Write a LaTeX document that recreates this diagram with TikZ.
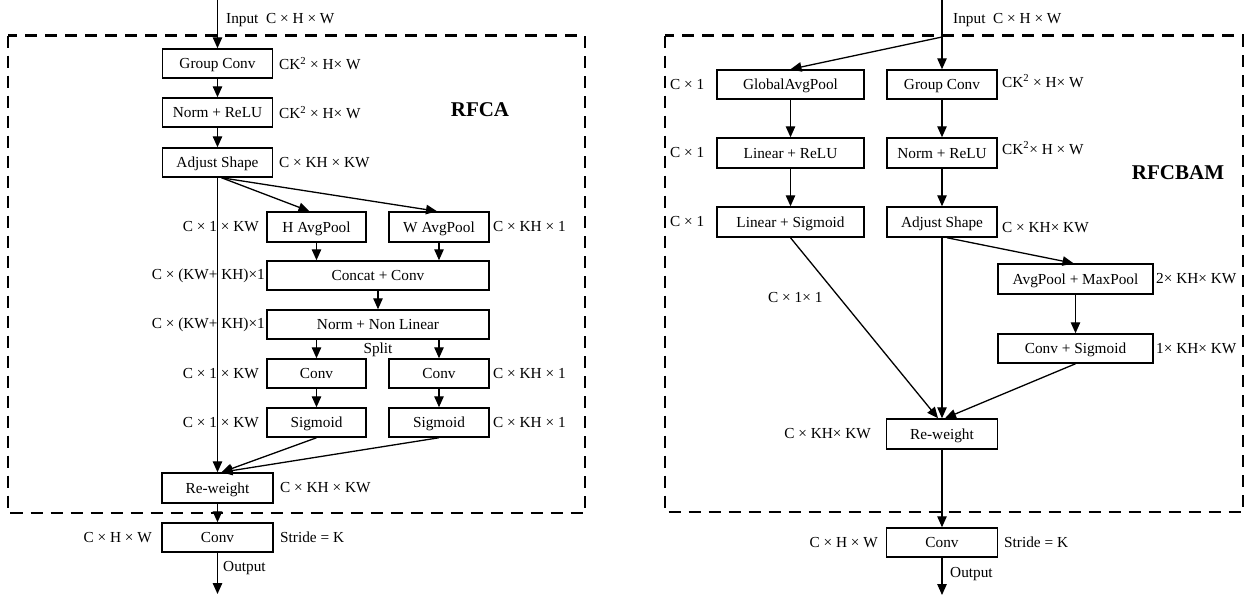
\documentclass[tikz,border=0pt]{standalone}
\usepackage{fontspec}
\setmainfont{Liberation Serif}
\usetikzlibrary{arrows.meta}
\newcommand{\mysz}{\fontsize{15.3}{18}\selectfont}
\newcommand{\mybig}{\bfseries\fontsize{21}{24}\selectfont}
\begin{document}
\begin{tikzpicture}[x=1pt,y=-1pt,
  box/.style={draw, line width=1.5pt, inner sep=0pt, minimum height=29pt, text depth=0pt, font=\mysz},
  lab/.style={inner sep=0pt, font=\mysz},
  arr/.style={line width=1.3pt, -{Triangle[length=11pt,width=9.5pt]}},
  dbox/.style={draw, line width=2.2pt, dash pattern=on 12pt off 8pt},
]
\useasboundingbox (0,0) rectangle (1249,595);
% dashed frames
\draw[dbox] (8,35.5) rectangle (585,513);
\draw[dbox] (665,35.5) rectangle (1243,512);

% ================= LEFT: RFCA =================
\node[box, minimum width=110pt] (gcA) at (217.5,63.5) {Group Conv};
\node[box, minimum width=110pt] (nrA) at (217.5,112.5) {Norm + ReLU};
\node[box, minimum width=110pt] (asA) at (217.5,162.5) {Adjust Shape};
\node[box, minimum width=99pt, minimum height=30pt] (hap) at (316.5,227) {H AvgPool};
\node[box, minimum width=100pt, minimum height=30pt] (wap) at (439,227) {W AvgPool};
\node[box, minimum width=222pt] (cc) at (378,275.5) {Concat + Conv};
\node[box, minimum width=222pt] (nnl) at (378,324.5) {Norm + Non Linear};
\node[box, minimum width=99pt] (cvA) at (316.5,373.5) {Conv};
\node[box, minimum width=100pt] (cvB) at (439,373.5) {Conv};
\node[box, minimum width=99pt] (sgA) at (316.5,422.5) {Sigmoid};
\node[box, minimum width=100pt] (sgB) at (439,422.5) {Sigmoid};
\node[box, minimum width=111pt, minimum height=30pt] (rwA) at (217.5,488) {Re-weight};
\node[box, minimum width=111pt] (coA) at (217.5,537.5) {Conv};
\coordinate (inA) at (217.5,0);
\coordinate (outA) at (217.5,594);

\node[lab, anchor=west] (tInA) at (226,20) {Input\enspace C × H × W};
\node[lab, anchor=west] (tgcA) at (279,63.5) {CK\textsuperscript{2} × H× W};
\node[lab, anchor=west] (tnrA) at (279,112.5) {CK\textsuperscript{2} × H× W};
\node[lab, anchor=west] (tasA) at (279,162.5) {C × KH × KW};
\node[font=\mybig, inner sep=0pt] (rfca) at (480,110) {RFCA};
\node[lab, anchor=east] (thap) at (259,227) {C × 1 × KW};
\node[lab, anchor=west] (twap) at (493,227) {C × KH × 1};
\node[lab, anchor=east] (tcc) at (265,275.5) {C × (KW+ KH)×1};
\node[lab, anchor=east] (tnnl) at (265,324.5) {C × (KW+ KH)×1};
\node[lab, text depth=0pt] (split) at (378,348) {Split};
\node[lab, anchor=east] (tcvA) at (259,373.5) {C × 1 × KW};
\node[lab, anchor=west] (tcvB) at (493,373.5) {C × KH × 1};
\node[lab, anchor=east] (tsgA) at (259,422.5) {C × 1 × KW};
\node[lab, anchor=west] (tsgB) at (493,422.5) {C × KH × 1};
\node[lab, anchor=west] (trwA) at (280,488) {C × KH × KW};
\node[lab, anchor=east] (tcoA) at (152,537.5) {C × H × W};
\node[lab, anchor=west] (tsA) at (280,537.5) {Stride = K};
\node[lab, anchor=west, text depth=0pt] (toutA) at (223,566) {Output};

\draw[arr] (inA) -- (gcA);
\draw[arr] (gcA) -- (nrA);
\draw[arr] (nrA) -- (asA);
\draw[arr] (asA) -- (rwA);
\draw[arr] ([xshift=4pt]asA.south) -- ([xshift=-7pt]hap.north);
\draw[arr] ([xshift=4pt]asA.south) -- ([xshift=-2pt]wap.north);
\draw[arr] (hap.south) -- (hap.south |- cc.north);
\draw[arr] (wap.south) -- (wap.south |- cc.north);
\draw[arr] (cc) -- (nnl);
\draw[arr] (cvA.north |- nnl.south) -- (cvA.north);
\draw[arr] (cvB.north |- nnl.south) -- (cvB.north);
\draw[arr] (cvA) -- (sgA);
\draw[arr] (cvB) -- (sgB);
\draw[arr] (sgA.south) -- ([xshift=4pt]rwA.north);
\draw[arr] (sgB.south) -- ([xshift=4pt]rwA.north);
\draw[arr] (rwA) -- (coA);
\draw[arr] (coA) -- (outA);

% ================= RIGHT: RFCBAM =================
\node[box, minimum width=147pt] (gap) at (790.5,84.5) {GlobalAvgPool};
\node[box, minimum width=110pt] (gcB) at (942,84.5) {Group Conv};
\node[box, minimum width=147pt, minimum height=30pt] (lr) at (790.5,153) {Linear + ReLU};
\node[box, minimum width=110pt, minimum height=30pt] (nrB) at (942,153) {Norm + ReLU};
\node[box, minimum width=147pt, minimum height=30pt] (ls) at (790.5,222) {Linear + Sigmoid};
\node[box, minimum width=110pt, minimum height=30pt] (asB) at (942,222) {Adjust Shape};
\node[box, minimum width=155pt, minimum height=30pt] (amp) at (1075.5,279) {AvgPool + MaxPool};
\node[box, minimum width=155pt] (cs) at (1075.5,348.5) {Conv + Sigmoid};
\node[box, minimum width=111pt, minimum height=30pt] (rwB) at (942,434) {Re-weight};
\node[box, minimum width=111pt] (coB) at (942,542.5) {Conv};
\coordinate (inB) at (942,0);
\coordinate (brB) at (942,37);
\coordinate (outB) at (942,595);

\node[lab, anchor=west] (tInB) at (953,20) {Input\enspace C × H × W};
\node[lab, anchor=west] (tgap) at (670,84.5) {C × 1};
\node[lab, anchor=west] (tlr) at (670,153) {C × 1};
\node[lab, anchor=west] (tls) at (670,222) {C × 1};
\node[lab, anchor=west] (tgcB) at (1002,81) {CK\textsuperscript{2} × H× W};
\node[lab, anchor=west] (tnrB) at (1002,148) {CK\textsuperscript{2}× H × W};
\node[lab, anchor=west] (tasB) at (1002,228) {C × KH× KW};
\node[font=\mybig, inner sep=0pt] (rfcbam) at (1178,173) {RFCBAM};
\node[lab, anchor=west] (tamp) at (1156,279) {2× KH× KW};
\node[lab, anchor=west] (tcs) at (1156,348.5) {1× KH× KW};
\node[lab, anchor=west] (tdiag) at (768,298) {C × 1× 1};
\node[lab, anchor=east] (trwB) at (871,434) {C × KH× KW};
\node[lab, anchor=east] (tcoB) at (878,542.5) {C × H × W};
\node[lab, anchor=west] (tsB) at (1004,542.5) {Stride = K};
\node[lab, anchor=west, text depth=0pt] (toutB) at (950,572) {Output};

\draw[arr] (inB) -- (gcB);
\draw[arr] (brB) -- (gap.north);
\draw[arr] (gap) -- (lr);
\draw[arr] (lr) -- (ls);
\draw[arr] (gcB) -- (nrB);
\draw[arr] (nrB) -- (asB);
\draw[arr] (asB) -- (rwB);
\draw[arr] ([xshift=5pt]asB.south) -- ([xshift=-2pt]amp.north);
\draw[arr] (amp) -- (cs);
\draw[arr] (ls.south) -- ([xshift=-4pt]rwB.north);
\draw[arr] (cs.south) -- ([xshift=3pt]rwB.north);
\draw[arr] (rwB) -- (coB);
\draw[arr] (coB) -- (outB);
\end{tikzpicture}
\end{document}
